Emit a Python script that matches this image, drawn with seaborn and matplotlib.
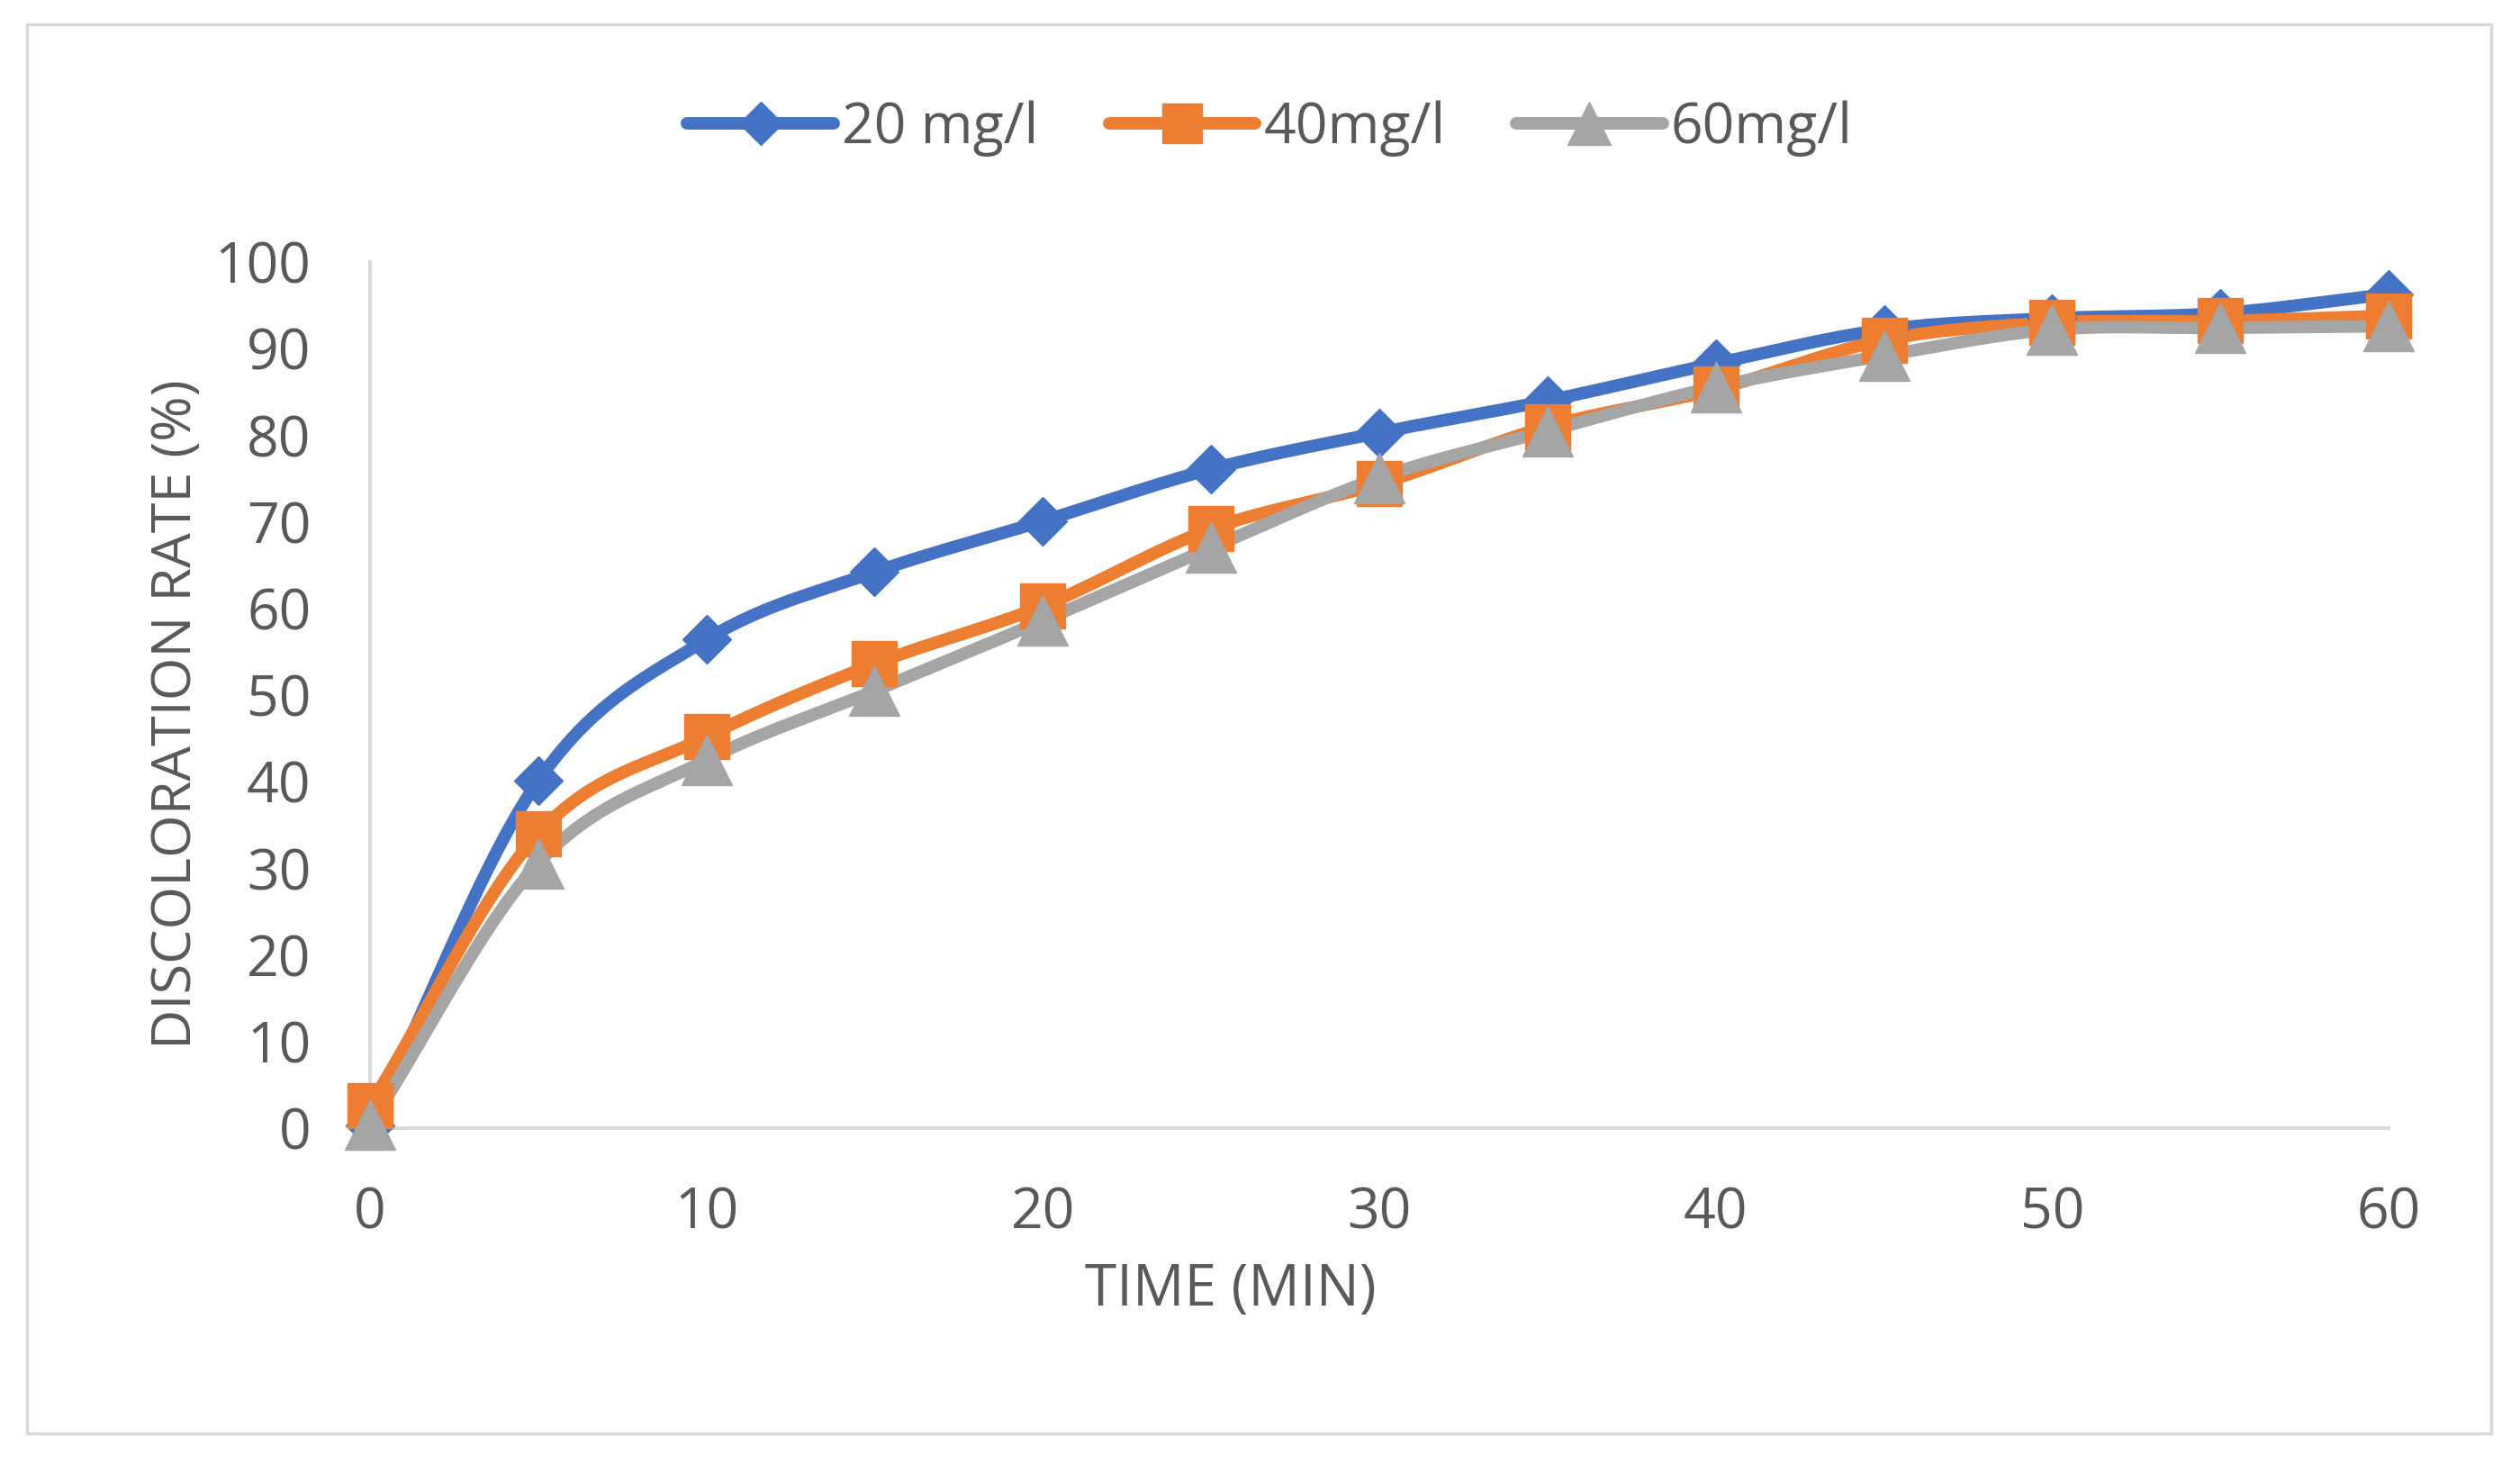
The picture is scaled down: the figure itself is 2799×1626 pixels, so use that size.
import numpy as np
import pandas as pd
import matplotlib
matplotlib.use("Agg")
import matplotlib.pyplot as plt
from matplotlib.lines import Line2D
from matplotlib.patches import Rectangle
import seaborn as sns

# values
time_min = [0, 5, 10, 15, 20, 25, 30, 35, 40, 45, 50, 55, 60]
rate_20 = [0.3, 40.1, 56.4, 64.2, 70.1, 76.1, 80.3, 84.0, 88.3, 92.2, 93.5, 94.1, 96.3]
rate_40 = [2.6, 34.0, 45.2, 53.6, 60.3, 69.2, 74.4, 81.0, 85.3, 91.0, 93.0, 93.2, 93.8]
rate_60 = [0.4, 30.6, 42.5, 50.5, 58.6, 67.0, 75.1, 80.5, 85.6, 89.2, 92.2, 92.4, 92.6]
labels = ["20 mg/l", "40mg/l", "60mg/l"]
colors = ["#4472C4", "#ED7D31", "#A5A5A5"]
markers = ["D", "s", "^"]
msizes = [28, 36, 40]
leg_msizes = [24, 32, 34]


def smooth(x, y, n=30):
    # catmull-rom curve, like the "smoothed line" option in a spreadsheet
    x = np.asarray(x, float)
    y = np.asarray(y, float)
    px = np.concatenate([[2 * x[0] - x[1]], x, [2 * x[-1] - x[-2]]])
    py = np.concatenate([[2 * y[0] - y[1]], y, [2 * y[-1] - y[-2]]])
    xs, ys = [], []
    t = np.linspace(0, 1, n, endpoint=False)
    for i in range(1, len(px) - 2):
        for p, out in ((px, xs), (py, ys)):
            p0, p1, p2, p3 = p[i - 1], p[i], p[i + 1], p[i + 2]
            out.extend(0.5 * (2 * p1 + (-p0 + p2) * t
                              + (2 * p0 - 5 * p1 + 4 * p2 - p3) * t ** 2
                              + (-p0 + 3 * p1 - 3 * p2 + p3) * t ** 3))
    xs.append(x[-1])
    ys.append(y[-1])
    return np.array(xs), np.array(ys)


sns.set_theme(style="white")
plt.rcParams["font.family"] = ["Open Sans", "DejaVu Sans"]
text_col = "#595959"
lw = 10

fig = plt.figure(figsize=(27.99, 16.26), dpi=100)
ax = fig.add_axes([0.1468, 0.2294, 0.8011, 0.5916])

series = [rate_20, rate_40, rate_60]
for vals, lab, c, m, ms in zip(series, labels, colors, markers, msizes):
    sx, sy = smooth(time_min, vals)
    sns.lineplot(x=sx, y=sy, ax=ax, color=c, linewidth=lw, sort=False,
                 estimator=None, clip_on=False, zorder=3)
    df = pd.DataFrame({"t": time_min, "v": vals})
    ax.plot(df["t"], df["v"], linestyle="none", marker=m, markersize=ms,
            color=c, markeredgecolor=c, clip_on=False, zorder=4)

ax.set_xlim(0, 60)
ax.set_ylim(0, 100)
ax.set_xticks(range(0, 61, 10))
ax.set_yticks(range(0, 101, 10))
ax.tick_params(axis="both", length=0, labelsize=45, labelcolor=text_col)
ax.tick_params(axis="x", pad=46)
ax.tick_params(axis="y", pad=47)

for side in ["top", "right"]:
    ax.spines[side].set_visible(False)
for side in ["left", "bottom"]:
    ax.spines[side].set_color("#D9D9D9")
    ax.spines[side].set_linewidth(3)
    ax.spines[side].set_zorder(1)

ax.set_xlabel("TIME (MIN)", fontsize=46, color=text_col)
ax.set_ylabel("DISCOLORATION RATE (%)", fontsize=44, color=text_col)
ax.xaxis.label.set_va("center")
ax.yaxis.label.set_va("center")
ax.xaxis.set_label_coords(0.4264, -0.187)
ax.yaxis.set_label_coords(-0.096, 0.478)

handles = [Line2D([0], [0], color=c, linewidth=lw, marker=m, markersize=ms,
                  markeredgecolor=c)
           for c, m, ms in zip(colors, markers, leg_msizes)]
leg = fig.legend(handles, labels, loc="center", bbox_to_anchor=(0.504, 0.912),
                 ncol=3, frameon=False, fontsize=45, handlelength=2.6,
                 handletextpad=0.15, columnspacing=1.25)
for t in leg.get_texts():
    t.set_color(text_col)

fig.patches.append(Rectangle((30 / 2799, 1 - 1592 / 1626), 2737 / 2799, 1565 / 1626,
                             transform=fig.transFigure, fill=False,
                             edgecolor="#D9D9D9", linewidth=2.5))

fig.savefig("out.png", dpi=100, facecolor="white")
plt.close(fig)
